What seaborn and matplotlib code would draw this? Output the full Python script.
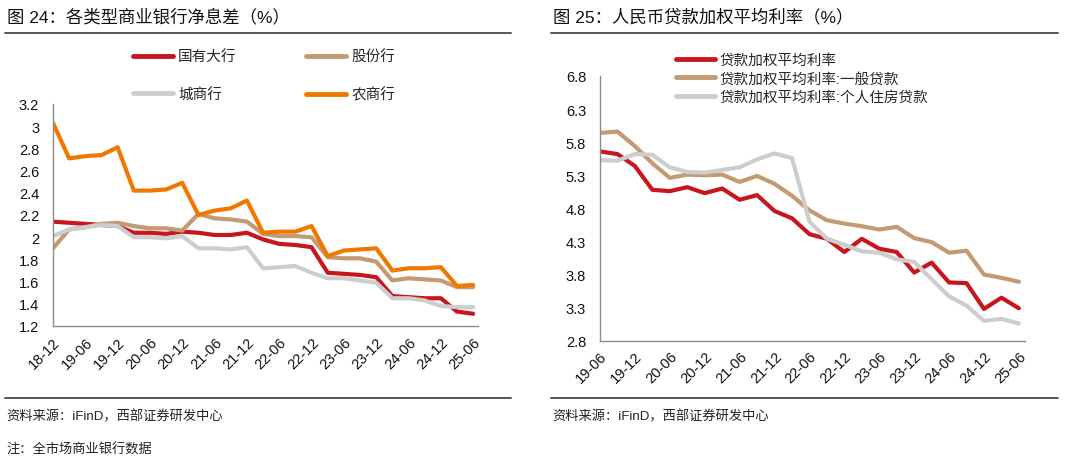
import numpy as np
import pandas as pd
import matplotlib
matplotlib.use("Agg")
import matplotlib.pyplot as plt
from matplotlib.lines import Line2D
import seaborn as sns

# ---------------- data ----------------
left_quarters = ["18-12", "19-03", "19-06", "19-09", "19-12", "20-03", "20-06", "20-09", "20-12",
                 "21-03", "21-06", "21-09", "21-12", "22-03", "22-06", "22-09", "22-12",
                 "23-03", "23-06", "23-09", "23-12", "24-03", "24-06", "24-09", "24-12",
                 "25-03", "25-06"]
state_banks = [2.14, 2.13, 2.12, 2.11, 2.10, 2.04, 2.04, 2.03, 2.05, 2.04, 2.02, 2.02, 2.04,
               1.98, 1.94, 1.93, 1.91, 1.68, 1.67, 1.66, 1.64, 1.47, 1.46, 1.45, 1.45, 1.33, 1.31]
joint_stock = [1.90, 2.07, 2.09, 2.12, 2.13, 2.10, 2.08, 2.08, 2.06, 2.21, 2.17, 2.16, 2.14,
               2.03, 2.01, 2.01, 2.00, 1.82, 1.81, 1.81, 1.78, 1.61, 1.63, 1.62, 1.61, 1.55, 1.55]
city_banks = [2.01, 2.07, 2.09, 2.11, 2.10, 2.00, 2.00, 1.99, 2.01, 1.90, 1.90, 1.89, 1.91,
              1.72, 1.73, 1.74, 1.68, 1.63, 1.63, 1.61, 1.59, 1.45, 1.45, 1.43, 1.38, 1.37, 1.37]
rural_banks = [3.03, 2.71, 2.73, 2.74, 2.81, 2.42, 2.42, 2.43, 2.49, 2.20, 2.24, 2.26, 2.33,
               2.04, 2.05, 2.05, 2.10, 1.83, 1.88, 1.89, 1.90, 1.70, 1.72, 1.72, 1.73, 1.56, 1.57]
left_names = ["国有大行", "股份行", "城商行", "农商行"]

right_quarters = ["19-06", "19-09", "19-12", "20-03", "20-06", "20-09", "20-12",
                  "21-03", "21-06", "21-09", "21-12", "22-03", "22-06", "22-09", "22-12",
                  "23-03", "23-06", "23-09", "23-12", "24-03", "24-06", "24-09", "24-12",
                  "25-03", "25-06"]
loan_rate = [5.66, 5.62, 5.44, 5.08, 5.06, 5.12, 5.03, 5.10, 4.93, 5.00, 4.76, 4.65, 4.41,
             4.34, 4.14, 4.34, 4.19, 4.14, 3.83, 3.98, 3.68, 3.67, 3.28, 3.45, 3.29]
general_loan = [5.94, 5.96, 5.74, 5.48, 5.26, 5.31, 5.30, 5.31, 5.20, 5.29, 5.17, 4.99, 4.77,
                4.62, 4.57, 4.53, 4.48, 4.52, 4.35, 4.29, 4.13, 4.16, 3.80, 3.75, 3.69]
mortgage = [5.53, 5.52, 5.62, 5.61, 5.42, 5.35, 5.34, 5.38, 5.42, 5.54, 5.63, 5.56, 4.60,
            4.34, 4.25, 4.15, 4.13, 4.03, 3.99, 3.73, 3.47, 3.33, 3.10, 3.13, 3.06]
right_names = ["贷款加权平均利率", "贷款加权平均利率:一般贷款", "贷款加权平均利率:个人住房贷款"]

left_yticks = [1.2, 1.4, 1.6, 1.8, 2.0, 2.2, 2.4, 2.6, 2.8, 3.0, 3.2]
left_ylabels = ["1.2", "1.4", "1.6", "1.8", "2", "2.2", "2.4", "2.6", "2.8", "3", "3.2"]
right_yticks = [2.8, 3.3, 3.8, 4.3, 4.8, 5.3, 5.8, 6.3, 6.8]

RED = "#C8161E"
TAN = "#C49A72"
GRAY = "#CDCDCD"
ORANGE = "#F07800"

# ---------------- style ----------------
sns.set_theme(style="white")
plt.rcParams["font.family"] = ["Liberation Sans", "Noto Sans CJK SC", "DejaVu Sans"]
plt.rcParams["axes.unicode_minus"] = False

fig = plt.figure(figsize=(10.8, 4.64), dpi=100)
W, H = 1080.0, 464.0

def fx(px):
    return px / W

def fy(py):
    return 1 - py / H

# ---------------- left chart ----------------
ax1 = fig.add_axes([fx(53), fy(327), fx(478 - 53), (327 - 105) / H])
left_df = pd.DataFrame({
    "x": list(range(len(left_quarters))) * 4,
    "v": state_banks + joint_stock + city_banks + rural_banks,
    "s": sum([[n] * len(left_quarters) for n in left_names], []),
})
sns.lineplot(data=left_df, x="x", y="v", hue="s", hue_order=left_names,
             palette=[RED, TAN, GRAY, ORANGE], linewidth=3.0, ax=ax1, sort=False,
             legend=True)
for l in ax1.get_lines():
    l.set_solid_joinstyle("round")
ax1.set_xlim(0, 26.3)
ax1.set_ylim(1.2, 3.2)
ax1.set_yticks(left_yticks)
ax1.set_yticklabels(left_ylabels)
ax1.set_xticks(range(0, len(left_quarters), 2))
ax1.set_xticklabels(left_quarters[::2], rotation=45, ha="right", rotation_mode="anchor")
ax1.set_xlabel("")
ax1.set_ylabel("")
handles, labels = ax1.get_legend_handles_labels()
hmap = dict(zip(labels, handles))
order = [left_names[0], left_names[2], left_names[1], left_names[3]]  # column-major fill
leg1 = ax1.legend([hmap[n] for n in order], order,
                  loc="upper left", bbox_to_anchor=(fx(133), fy(51)),
                  bbox_transform=fig.transFigure, ncol=2, frameon=False,
                  fontsize=10.5, handlelength=2.75, handletextpad=0.35,
                  columnspacing=4.75, labelspacing=1.6, borderpad=0, borderaxespad=0)
for h in leg1.get_lines():
    h.set_linewidth(3.5)

# ---------------- right chart ----------------
ax2 = fig.add_axes([fx(600), fy(341.7), fx(1025 - 600), (341.7 - 77) / H])
right_df = pd.DataFrame({
    "x": list(range(len(right_quarters))) * 3,
    "v": loan_rate + general_loan + mortgage,
    "s": sum([[n] * len(right_quarters) for n in right_names], []),
})
sns.lineplot(data=right_df, x="x", y="v", hue="s", hue_order=right_names,
             palette=[RED, TAN, GRAY], linewidth=3.0, ax=ax2, sort=False, legend=True)
for l in ax2.get_lines():
    l.set_solid_joinstyle("round")
ax2.set_xlim(0, 24.35)
ax2.set_ylim(2.8, 6.8)
ax2.set_yticks(right_yticks)
ax2.set_yticklabels([f"{v:.1f}" for v in right_yticks])
ax2.set_xticks(range(0, len(right_quarters), 2))
ax2.set_xticklabels(right_quarters[::2], rotation=45, ha="right", rotation_mode="anchor")
ax2.set_xlabel("")
ax2.set_ylabel("")
leg2 = ax2.legend(loc="upper left", bbox_to_anchor=(fx(676), fy(54)),
                  bbox_transform=fig.transFigure, ncol=1, frameon=False,
                  fontsize=10.5, handlelength=2.7, handletextpad=0.3,
                  labelspacing=0.3, borderpad=0, borderaxespad=0)
for h in leg2.get_lines():
    h.set_linewidth(3.5)

for ax in (ax1, ax2):
    for side in ("top", "right"):
        ax.spines[side].set_visible(False)
    for side in ("left", "bottom"):
        ax.spines[side].set_color("#8C8C8C")
        ax.spines[side].set_linewidth(1.0)
    ax.tick_params(axis="both", direction="in", length=4, width=1.0, color="#8C8C8C",
                   labelsize=10.5, labelcolor="#111111")
    ax.tick_params(axis="y", pad=10)
    ax.tick_params(axis="x", pad=6)
    ax.grid(False)
    ax.set_facecolor("none")

# ---------------- titles, rules, notes ----------------
fig.text(fx(7), fy(17), "图 24：各类型商业银行净息差（%）", fontsize=12.5, va="center",
         ha="left", color="#111111")
fig.text(fx(553), fy(17), "图 25：人民币贷款加权平均利率（%）", fontsize=12.5, va="center",
         ha="left", color="#111111")
for x0, x1 in ((5, 511), (551, 1058)):
    fig.add_artist(Line2D([fx(x0), fx(x1)], [fy(34), fy(34)], color="#555555", lw=1.4))
    fig.add_artist(Line2D([fx(x0), fx(x1)], [fy(399), fy(399)], color="#555555", lw=1.4))
fig.text(fx(6), fy(417), "资料来源：iFinD，西部证券研发中心", fontsize=9.5, va="center",
         ha="left", color="#222222")
fig.text(fx(6), fy(450), "注：全市场商业银行数据", fontsize=9.5, va="center",
         ha="left", color="#222222")
fig.text(fx(552), fy(417), "资料来源：iFinD，西部证券研发中心", fontsize=9.5, va="center",
         ha="left", color="#222222")

fig.savefig("out.png", dpi=100, facecolor="white")
